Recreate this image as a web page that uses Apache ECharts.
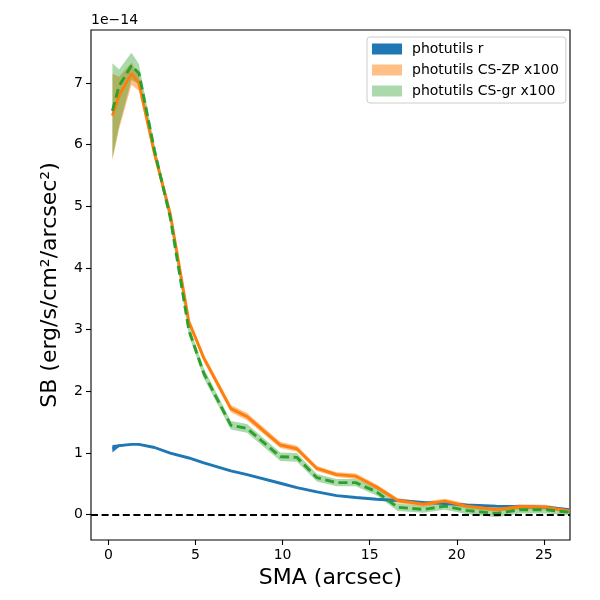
<!DOCTYPE html>
<html>
<head>
<meta charset="utf-8">
<script src="https://cdn.jsdelivr.net/npm/echarts@6/dist/echarts.min.js"></script>
<style>
  html, body { margin: 0; padding: 0; background: #fff; }
  #main { width: 600px; height: 600px; }
</style>
</head>
<body>
<div id="main"></div>
<script>
// semi-major axis (arcsec), surface brightness in units of 1e-14
const sma = [0.23, 0.61, 1.32, 1.75, 2.65, 3.55, 4.62, 5.48, 7.03, 7.96, 9.87, 10.82,
  11.97, 13.1, 14.2, 15.4, 16.6, 18.08, 19.32, 20.56, 22.28, 23.6, 25.14, 26.48];

const rMid = [1.07, 1.12, 1.14, 1.14, 1.09, 1.00, 0.92, 0.84, 0.71, 0.65, 0.51, 0.44,
  0.37, 0.31, 0.28, 0.25, 0.23, 0.20, 0.18, 0.16, 0.14, 0.13, 0.12, 0.08];
const rLo = [1.01, 1.10, 1.13, 1.13, 1.08, 0.99, 0.91, 0.83, 0.70, 0.64, 0.50, 0.43,
  0.36, 0.30, 0.27, 0.24, 0.22, 0.19, 0.17, 0.15, 0.13, 0.12, 0.11, 0.07];
const rHi = [1.13, 1.14, 1.15, 1.15, 1.10, 1.01, 0.93, 0.85, 0.72, 0.66, 0.52, 0.45,
  0.38, 0.32, 0.29, 0.26, 0.24, 0.21, 0.19, 0.17, 0.15, 0.14, 0.13, 0.09];

const zpMid = [6.47, 6.80, 7.15, 7.00, 5.85, 4.88, 3.13, 2.54, 1.72, 1.59, 1.13, 1.07,
  0.75, 0.65, 0.625, 0.45, 0.23, 0.17, 0.22, 0.14, 0.085, 0.13, 0.12, 0.06];
const zpLo = [5.75, 6.25, 6.97, 6.88, 5.76, 4.80, 3.07, 2.48, 1.66, 1.53, 1.08, 1.02,
  0.71, 0.61, 0.58, 0.41, 0.19, 0.13, 0.18, 0.10, 0.05, 0.09, 0.08, 0.03];
const zpHi = [7.15, 7.10, 7.33, 7.12, 5.94, 4.96, 3.19, 2.60, 1.78, 1.65, 1.18, 1.12,
  0.79, 0.69, 0.67, 0.49, 0.27, 0.21, 0.26, 0.18, 0.12, 0.17, 0.16, 0.09];

const grMid = [6.55, 6.95, 7.28, 7.16, 5.90, 4.82, 2.99, 2.29, 1.45, 1.40, 0.94, 0.93,
  0.60, 0.52, 0.52, 0.37, 0.12, 0.085, 0.14, 0.07, 0.02, 0.08, 0.08, 0.04];
const grLo = [5.78, 6.30, 7.05, 6.99, 5.80, 4.73, 2.91, 2.21, 1.38, 1.33, 0.87, 0.86,
  0.54, 0.46, 0.46, 0.31, 0.06, 0.03, 0.08, 0.01, -0.04, 0.02, 0.02, -0.01];
const grHi = [7.32, 7.22, 7.49, 7.31, 6.00, 4.91, 3.07, 2.37, 1.52, 1.47, 1.01, 1.00,
  0.66, 0.58, 0.58, 0.43, 0.18, 0.14, 0.20, 0.13, 0.08, 0.14, 0.14, 0.09];

const xTicks = [0, 5, 10, 15, 20, 25];
const yTicks = [0, 1, 2, 3, 4, 5, 6, 7];

const names = ["photutils r", "photutils CS-ZP x100", "photutils CS-gr x100"];

const FONT = "DejaVu Sans";

function bandSeries(name, lo, hi, color) {
  return {
    name: name,
    type: "custom",
    itemStyle: { color: color },
    encode: { x: 0, y: [1, 2] },
    data: sma.map((x, i) => [x, lo[i], hi[i]]),
    renderItem: function (params, api) {
      if (params.dataIndex !== 0) return;
      const pts = [];
      for (let i = 0; i < sma.length; i++) pts.push(api.coord([sma[i], hi[i]]));
      for (let i = sma.length - 1; i >= 0; i--) pts.push(api.coord([sma[i], lo[i]]));
      return {
        type: "polygon",
        shape: { points: pts },
        style: { fill: color, stroke: null },
      };
    },
  };
}

function lineSeries(name, values, color, dash) {
  return {
    name: name,
    type: "line",
    showSymbol: false,
    data: sma.map((x, i) => [x, values[i]]),
    lineStyle: { color: color, width: 2.9, type: dash || "solid" },
    itemStyle: { color: color },
  };
}

function axisCommon(ticks) {
  return {
    type: "value",
    nameLocation: "middle",
    nameTextStyle: { fontFamily: FONT, fontSize: 22, color: "#000" },
    axisLine: { show: false, onZero: false },
    axisTick: { show: true, inside: false, length: 5, lineStyle: { color: "#000", width: 1.1 }, customValues: ticks },
    axisLabel: { fontFamily: FONT, fontSize: 14, color: "#000", margin: 8, customValues: ticks },
    splitLine: { show: false },
  };
}

function chartOption() {
  const zeroLine = lineSeries("r line", rMid, "#1f77b4");
  zeroLine.markLine = {
    silent: true,
    symbol: "none",
    label: { show: false },
    lineStyle: { color: "#000", width: 2, type: [7, 3.6] },
    data: [{ yAxis: 0 }],
  };

  const xAxis = axisCommon(xTicks);
  xAxis.min = -1;
  xAxis.max = 26.5;
  xAxis.name = "SMA (arcsec)";
  xAxis.nameGap = 26;

  const yAxis = axisCommon(yTicks);
  yAxis.min = -0.41;
  yAxis.max = 7.86;
  yAxis.name = "SB (erg/s/cm\u00b2/arcsec\u00b2)";
  yAxis.nameGap = 30;

  return {
    animation: false,
    backgroundColor: "#fff",
    textStyle: { fontFamily: FONT },
    grid: {
      left: 91, right: 30, top: 30, bottom: 60,
      show: true, borderColor: "#000", borderWidth: 1.1, backgroundColor: "transparent",
    },
    legend: {
      orient: "vertical",
      left: 367, top: 37,
      data: names,
      icon: "rect",
      itemWidth: 30, itemHeight: 11, itemGap: 7,
      padding: [5, 7, 5, 5],
      borderColor: "#cccccc", borderWidth: 1, borderRadius: 3,
      backgroundColor: "rgba(255,255,255,0.8)",
      textStyle: { fontFamily: FONT, fontSize: 14, color: "#000", padding: [0, 0, 0, 5] },
    },
    graphic: [{
      type: "text",
      left: 91, top: 13,
      style: { text: "1e\u221214", font: "14px " + FONT, fill: "#000" },
    }],
    xAxis: xAxis,
    yAxis: yAxis,
    series: [
      bandSeries(names[0], rLo, rHi, "#1f77b4"),
      zeroLine,
      bandSeries(names[1], zpLo, zpHi, "rgba(255,127,14,0.5)"),
      bandSeries(names[2], grLo, grHi, "rgba(44,160,44,0.4)"),
      lineSeries("zp line", zpMid, "#ff7f0e"),
      lineSeries("gr line", grMid, "#2ca02c", [9, 4.5]),
    ],
  };
}

function initChart(element) {
  if (!element) return;
  const chart = echarts.init(element, null, { renderer: "canvas" });
  chart.setOption(chartOption());
  return chart;
}

initChart(document.getElementById("main"));
</script>
</body>
</html>
